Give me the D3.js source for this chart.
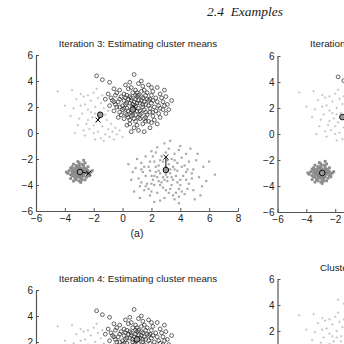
<!DOCTYPE html>
<html><head><meta charset="utf-8">
<script src="https://cdn.jsdelivr.net/npm/d3@7"></script>
<style>html,body{margin:0;padding:0;background:#fff;}svg{display:block;}</style>
</head><body>
<script>
// ---------- data ----------
const xTicks = [-6, -4, -2, 0, 2, 4, 6, 8];
const yTicks = [-6, -4, -2, 0, 2, 4, 6];
const titles = ["Iteration 3: Estimating cluster means", "Iteration 4: Assigning data points",
                "Iteration 4: Estimating cluster means", "Clusters found by K-means"];
const pageHeading = "2.4  Examples";
const subLabel = "(a)";

// cluster A, part drawn as open circles
const clusterAcircles = [[-1.8,4.4],[0.8,4.5],[-1.4,4.1],[-0.9,3.9],[0.2,3.7],[0.5,3.9],[1.1,3.8],[1.4,3.6],[1.8,3.7],[2.4,3.5],
 [-0.6,3.4],[-0.2,3.3],[0.4,3.4],[0.9,3.3],[1.3,3.2],[1.7,3.1],[2.1,3.2],[2.6,3.0],[3.0,2.8],
 [-1.0,3.0],[-0.5,2.9],[-0.1,2.8],[0.3,2.9],[0.6,2.7],[1.0,2.8],[1.4,2.7],[1.9,2.6],[2.3,2.7],[2.8,2.4],[3.1,2.2],
 [-1.2,2.6],[-0.7,2.5],[-0.3,2.4],[0.1,2.5],[0.5,2.3],[0.8,2.4],[1.2,2.3],[1.6,2.2],[2.0,2.3],[2.5,2.1],
 [-0.9,2.1],[-0.4,2.0],[0.0,2.1],[0.3,1.9],[0.7,2.0],[1.1,1.9],[1.5,1.8],[1.9,1.9],[2.3,1.7],[2.8,1.8],
 [-0.6,1.7],[-0.2,1.6],[0.2,1.5],[0.6,1.6],[0.9,1.4],[1.3,1.5],[1.7,1.4],[2.1,1.3],[2.6,1.2],[3.0,1.5],
 [-0.3,1.2],[0.1,1.1],[0.5,1.0],[0.9,0.9],[1.2,1.1],[1.6,0.9],[2.0,0.8],[2.4,0.7],
 [0.3,0.6],[0.8,0.4],[1.1,0.2],[1.5,0.1],[1.9,0.4],[0.6,0.1],
 [0.4,2.6],[0.9,2.1],[1.3,2.5],[0.2,2.2],[0.6,1.3],[1.0,1.7],[1.4,2.0],[1.8,2.5],[0.0,1.8],[-0.5,2.2],
 [0.7,3.1],[1.1,2.9],[1.5,2.4],[2.2,2.0],[0.3,1.4],[1.2,1.4],[1.6,1.6],[0.9,2.6],[0.5,2.8],[-0.2,2.6],
 [0.1,3.0],[0.6,3.5],[1.0,3.1],[1.6,2.9],[2.0,2.9],[2.4,2.4],[2.7,2.7],[-0.4,3.1],[-0.8,2.7],[0.3,2.3],
 [0.7,2.2],[1.1,2.5],[1.4,2.2],[1.8,2.1],[2.1,1.6],[2.5,1.5],[0.4,1.7],[0.8,1.8],[1.2,1.7],[1.6,1.2],
 [0.4,1.2],[0.8,1.1],[1.4,0.7],[1.8,0.9],[2.2,1.0],[0.5,0.7],[1.0,0.6],[-0.1,1.4],[0.1,1.9],[0.6,2.5],
 [1.0,2.3],[1.3,2.8],[1.7,2.6],[2.1,2.5],[2.9,2.1],[3.2,1.8],[2.6,1.9],[1.9,1.6],[1.5,1.1],[1.1,1.2],
 [0.7,1.4],[-0.2,2.0],[-0.6,2.4],[0.2,2.7],[0.9,2.9],[1.5,3.3],[2.0,3.5],[2.9,3.3],[3.4,2.5],[1.3,4.0]];
// cluster A, part drawn as light gray specks
const clusterAgray = [[-4.5,3.2],[-3.2,2.6],[-2.9,3.0],[-2.6,2.2],[-2.4,1.8],[-2.8,1.5],[-3.0,1.1],[-2.2,2.5],[-1.9,2.0],[-1.6,1.6],
 [-2.1,1.2],[-1.8,0.9],[-2.5,0.7],[-1.4,0.5],[-1.7,0.1],[-2.3,0.3],[-1.2,-0.1],[-1.0,0.3],[-2.7,2.8],[-1.5,2.3],
 [-1.3,1.9],[-2.0,3.1],[-1.7,2.7],[-3.4,1.9],[-2.0,0.0],[-1.1,1.0],[-0.8,0.7],[-0.5,0.4],[-0.9,-0.3],[-1.6,1.2],
 [-2.2,1.6],[-1.9,1.5],[-2.4,1.0],[-3.5,3.3],[-3.1,0.6],[-2.6,-0.2],[-1.5,-0.4],[-0.6,-0.5],[-0.2,0.2],[0.0,-0.3],
 [-0.4,-0.1],[-2.9,2.1],[-3.6,1.3],[-1.4,2.9],[-2.4,2.9],[-1.8,3.4],[-1.2,1.4],[-1.0,1.7],[-2.0,0.6],[-2.7,0.2],
 [-3.3,0.0],[-1.3,-0.6],[-0.7,0.1],[-1.9,-0.5],[-4.0,2.1]];
// cluster B (tight)
const clusterB = [[-3.0,-3.0],[-3.2,-2.8],[-2.8,-3.2],[-3.3,-3.1],[-2.7,-2.9],[-3.1,-3.3],[-2.9,-2.7],[-3.4,-2.9],[-2.6,-3.1],[-3.0,-3.4],
 [-3.1,-2.6],[-2.8,-2.8],[-3.2,-3.2],[-3.5,-3.0],[-2.5,-3.0],[-3.0,-2.5],[-2.9,-3.5],[-3.3,-2.7],[-2.7,-3.3],[-3.6,-3.2],
 [-2.4,-2.9],[-3.1,-3.0],[-2.9,-3.1],[-3.4,-3.3],[-2.6,-2.7],[-3.2,-2.5],[-2.8,-3.6],[-3.7,-2.9],[-2.3,-3.1],[-3.0,-3.7],
 [-3.0,-2.3],[-3.5,-2.6],[-2.5,-3.4],[-3.3,-3.5],[-2.7,-2.5],[-3.8,-3.1],[-2.2,-3.0],[-3.1,-2.2],[-2.9,-3.8],[-3.4,-2.4],
 [-2.6,-3.6],[-3.6,-3.5],[-2.4,-2.6],[-3.2,-3.6],[-2.8,-2.4],[-3.5,-3.3],[-2.5,-2.8],[-3.3,-3.0],[-2.7,-3.0],[-3.0,-3.2],
 [-3.0,-2.8],[-3.2,-3.0],[-2.8,-3.0],[-3.1,-2.9],[-2.9,-2.9],[-3.6,-2.7],[-2.3,-3.3],[-3.9,-3.0],[-2.1,-2.9],[-3.4,-3.7],
 [-2.6,-2.3],[-2.7,-2.1],[-3.1,-3.1],[-2.9,-3.3],[-3.3,-2.9],[-2.7,-2.7],[-3.2,-3.4],[-2.6,-2.9],[-3.4,-3.1],[-2.8,-3.4],
 [-3.0,-2.6],[-3.5,-2.8],[-2.4,-3.2],[-3.2,-2.7]];
// cluster C (wide)
const clusterC = [[3.0,-1.5],[2.7,-1.8],[3.4,-2.0],[2.2,-2.2],[3.8,-2.3],[2.5,-2.5],[3.2,-2.4],[4.1,-2.6],[1.8,-2.6],[2.9,-2.8],
 [3.6,-2.8],[1.4,-3.0],[2.3,-3.0],[3.3,-3.1],[4.4,-3.0],[2.0,-3.3],[2.8,-3.4],[3.7,-3.3],[1.1,-3.5],[2.5,-3.7],
 [3.1,-3.7],[4.0,-3.6],[1.7,-3.9],[2.2,-4.0],[3.4,-4.0],[4.6,-3.9],[2.8,-4.2],[3.9,-4.3],[1.5,-4.4],[3.2,-4.6],
 [2.4,-4.6],[4.3,-4.7],[2.9,-5.0],[3.6,-5.1],[5.0,-5.1],[1.0,-2.0],[0.6,-3.6],[0.9,-2.7],[1.3,-2.3],[1.6,-1.8],
 [2.0,-1.4],[2.4,-1.1],[2.9,-0.8],[3.3,-0.6],[3.9,-1.3],[4.4,-1.6],[4.7,-1.2],[5.1,-2.1],[4.9,-2.8],[5.3,-3.4],
 [6.4,-3.2],[5.6,-2.6],[4.8,-3.5],[5.5,-4.1],[4.9,-4.4],[5.2,-1.6],[4.1,-1.9],[3.6,-1.6],[2.6,-2.1],[1.9,-2.9],
 [2.1,-3.6],[1.2,-4.1],[0.8,-4.5],[1.9,-4.8],[2.6,-5.2],[3.9,-4.9],[4.5,-4.3],[3.5,-3.6],[3.0,-3.2],[2.6,-3.1],
 [3.8,-2.9],[4.2,-3.3],[1.6,-3.3],[2.3,-2.6],[3.1,-2.1],[3.5,-2.6],[2.7,-3.8],[3.3,-4.3],[1.8,-4.3],[4.6,-2.2],
 [0.7,-3.0],[1.3,-3.8],[2.0,-4.5],[3.7,-4.6],[4.0,-4.0],[2.4,-3.4],[3.0,-2.6],[1.5,-2.6],[2.1,-1.8],[4.3,-2.5],
 [2.8,-2.2],[3.3,-2.8],[2.5,-2.9],[3.1,-3.4],[3.8,-3.8],[2.2,-3.3],[1.9,-2.2],[3.6,-2.1],[4.5,-2.8],[2.6,-4.0],
 [3.0,-4.4],[3.5,-4.8],[1.6,-4.1],[1.3,-2.8],[4.1,-4.5],[4.8,-3.1],[5.8,-3.7],[2.3,-1.5],[3.2,-1.2],[4.0,-1.0],
 [3.4,-3.4],[2.9,-3.6],[2.0,-3.9],[4.4,-3.6],[0.4,-2.4],[1.2,-5.0],[2.2,-5.3],[3.9,-5.4],[5.4,-4.8],[6.0,-2.2]];

// means per panel: old position (o) and new position (x, null if none)
const meansOldA = [[-1.55,1.4],[0.7,1.8],[-2.95,-3.0],[3.0,-2.85]];
const meansNewA = [[-1.7,1.0],[0.8,2.0],[-2.35,-3.1],[3.0,-1.85]];
const meansOldB = [[-1.5,1.3],[0.9,2.2],[-2.9,-3.0],[3.0,-2.9]];
const meansOldC = [[-1.5,1.3],[1.0,2.2],[-2.9,-3.0],[3.0,-2.9]];

// ---------- drawing ----------
const W = 344, H = 344;
const svg = d3.select("body").append("svg").attr("width", W).attr("height", H)
  .style("font-family", "'Liberation Sans', Arial, sans-serif");

svg.append("text").attr("x", 207).attr("y", 16)
  .style("font-family", "'Liberation Serif', 'Times New Roman', serif")
  .style("font-style", "italic").style("font-size", "13.5px").style("white-space", "pre")
  .attr("fill", "#222").text(pageHeading);

const UX = 14.43, UY = 13;
const panels = [
  {x0: 36, yTop: 55, tx: 138, ty: 46.5, anchor: "middle", title: titles[0], split: true, old: meansOldA, neu: meansNewA, sub: subLabel},
  {x0: 277.5, yTop: 56, tx: 310, ty: 46.5, anchor: "start", title: titles[1], split: true, old: meansOldB, neu: null},
  {x0: 36, yTop: 290, tx: 138, ty: 282, anchor: "middle", title: titles[2], split: true, old: meansOldC, neu: null},
  {x0: 277.5, yTop: 279, tx: 320, ty: 271, anchor: "start", title: titles[3], split: false, old: null, neu: null}
];

panels.forEach(p => {
  const x = d3.scaleLinear().domain([-6, 8]).range([p.x0, p.x0 + 14 * UX]);
  const y = d3.scaleLinear().domain([-6, 6]).range([p.yTop + 12 * UY, p.yTop]);
  const g = svg.append("g");

  g.append("text").attr("x", p.tx).attr("y", p.ty).attr("text-anchor", p.anchor)
    .style("font-size", "9.8px").attr("fill", "#222").text(p.title);

  // light gray specks
  const light = p.split ? clusterAgray : clusterAgray.concat(clusterAcircles);
  g.append("g").selectAll("path").data(light).join("path")
    .attr("d", d => `M${x(d[0])-1.2},${y(d[1])}h2.4M${x(d[0])},${y(d[1])-1.2}v2.4`)
    .attr("stroke", "#c2c2c2").attr("stroke-width", 0.9);
  // cluster C
  g.append("g").selectAll("rect").data(clusterC).join("rect")
    .attr("x", d => x(d[0]) - 1.1).attr("y", d => y(d[1]) - 1.1)
    .attr("width", 2.2).attr("height", 2.2).attr("fill", "#a9a9a9");
  // cluster B
  g.append("g").selectAll("rect").data(clusterB).join("rect")
    .attr("x", d => x(d[0]) - 1.4).attr("y", d => y(d[1]) - 1.4)
    .attr("width", 2.8).attr("height", 2.8).attr("fill", "#8a8a8a");
  // circles
  if (p.split) {
    g.append("g").selectAll("circle").data(clusterAcircles).join("circle")
      .attr("cx", d => x(d[0])).attr("cy", d => y(d[1])).attr("r", 1.9)
      .attr("fill", "none").attr("stroke", "#333").attr("stroke-width", 0.75);
  }
  // means
  if (p.old) {
    if (p.neu) {
      g.append("g").selectAll("line").data(p.old).join("line")
        .attr("x1", (d) => x(d[0])).attr("y1", d => y(d[1]))
        .attr("x2", (d, i) => x(p.neu[i][0])).attr("y2", (d, i) => y(p.neu[i][1]))
        .attr("stroke", "#111").attr("stroke-width", 1);
      g.append("g").selectAll("path").data(p.neu).join("path")
        .attr("d", d => `M${x(d[0])-2.5},${y(d[1])-2.5}l5,5M${x(d[0])-2.5},${y(d[1])+2.5}l5,-5`)
        .attr("stroke", "#111").attr("stroke-width", 1);
    }
    g.append("g").selectAll("circle").data(p.old).join("circle")
      .attr("cx", d => x(d[0])).attr("cy", d => y(d[1])).attr("r", 2.8)
      .attr("fill", "#9a9a9a").attr("stroke", "#111").attr("stroke-width", 1);
  }

  // axes (only the parts that fall inside the page window)
  const axes = [];
  if (y(-6) < H) {
    const xv = xTicks.filter(v => x(v) <= W - 5);
    axes.push(g.append("g").attr("class", "xa").attr("transform", `translate(0,${y(-6)})`)
      .call(d3.axisBottom(x).tickValues(xv).tickSizeInner(-3).tickSizeOuter(0).tickPadding(5).tickFormat(d3.format("d"))));
  }
  const yv = yTicks.filter(v => y(v) <= H - 2);
  const ay = g.append("g").attr("transform", `translate(${p.x0},0)`)
    .call(d3.axisLeft(y).tickValues(yv).tickSizeInner(-3).tickSizeOuter(0).tickPadding(3).tickFormat(d3.format("d")));
  axes.push(ay);
  axes.forEach(a => {
    a.select(".domain").attr("stroke", "#555").attr("stroke-width", 1.2);
    a.selectAll(".tick line").attr("stroke", "#555");
    a.selectAll("text").attr("fill", "#222").style("font-size", "10px")
      .style("font-family", "'Liberation Sans', Arial, sans-serif");
  });
  g.selectAll(".xa text").attr("dy", "0.71em").attr("y", 4);

  if (p.sub) {
    g.append("text").attr("x", x(1)).attr("y", 237).attr("text-anchor", "middle")
      .style("font-size", "10.5px").attr("fill", "#222").text(p.sub);
  }
});
</script>
</body></html>
